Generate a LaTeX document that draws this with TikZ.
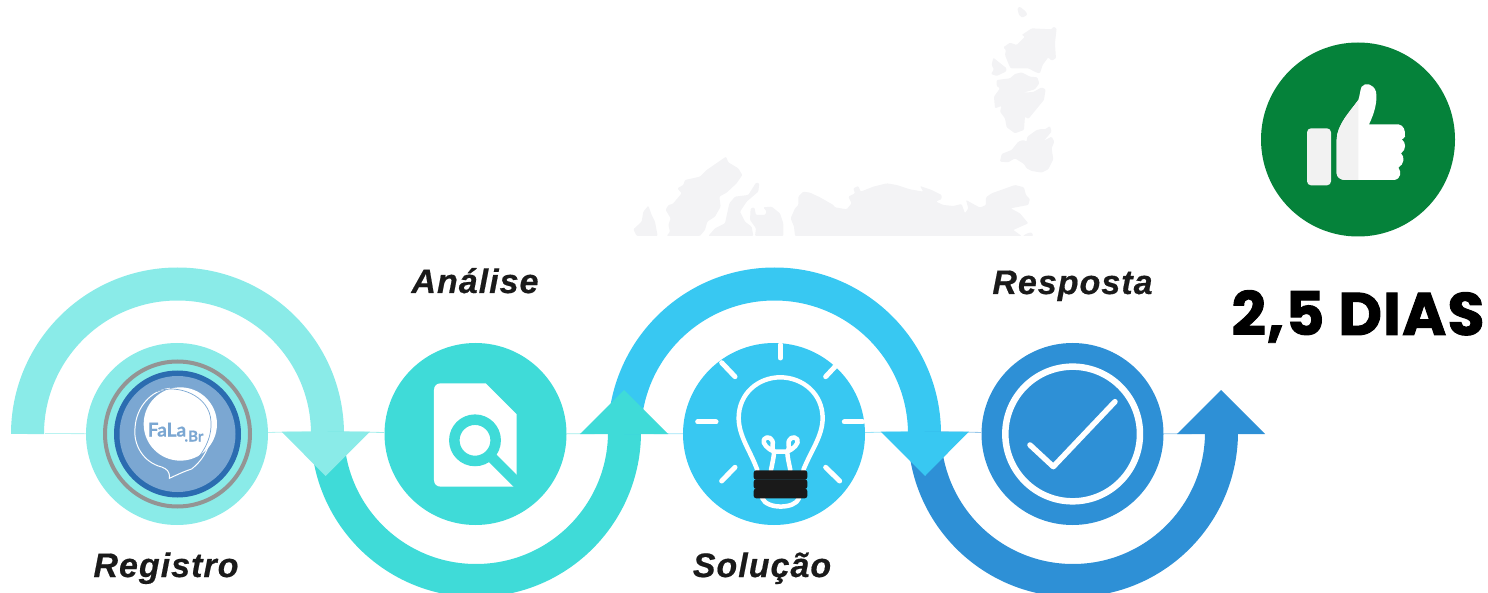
\documentclass[tikz,border=0pt]{standalone}
\usepackage{fontspec}
\setmainfont{Liberation Sans}
\newfontfamily\lblfont[LetterSpace=3,FakeBold=0.5]{Liberation Sans}
\newfontfamily\bigfont[FakeBold=1.6,LetterSpace=2]{Poppins}
\newfontfamily\logofont[FakeBold=0.4]{Lato}
\definecolor{cA}{HTML}{8AEBE8}
\definecolor{cB}{HTML}{3FDBD8}
\definecolor{cC}{HTML}{38C8F2}
\definecolor{cD}{HTML}{2E90D6}
\definecolor{cG}{HTML}{05823A}
\definecolor{mapg}{HTML}{F3F3F5}
\definecolor{txt}{HTML}{1A1A1A}
\definecolor{logoB}{HTML}{7BA7D2}
\definecolor{logoD}{HTML}{2B6CB0}
\tikzset{
  disc/.style={circle,minimum size=182pt,inner sep=0pt,fill=#1},
  band/.style={line width=33pt,draw=#1},
  hair/.style={line width=0.8pt,draw=#1},
  lbl/.style={anchor=base,font=\lblfont\fontsize{34}{34}\selectfont\bfseries\itshape,text=txt},
  ray/.style={draw=white,line width=5pt,line cap=round},
  wline/.style={draw=white,line width=4.5pt,line cap=round,line join=round},
  landmass/.style={fill=mapg,rounded corners=1pt},
  base/.style={fill=txt,rounded corners=2.5pt}
}
\newcommand{\handpath}{(190,75) .. controls (195,60) and (195,45) .. (200,35) .. controls (210,22) and (235,25) .. (243,50) .. controls (248,80) and (238,115) .. (222,148) -- (310,148) .. controls (325,150) and (332,165) .. (330,185) .. controls (327,190) and (323,192) .. (320,193) .. controls (333,200) and (335,225) .. (318,235) .. controls (330,245) and (328,268) .. (310,278) .. controls (320,290) and (318,312) .. (298,315) -- (150,315) .. controls (135,315) and (125,305) .. (125,295) -- (125,195) .. controls (125,150) and (165,110) .. (190,75) -- cycle}
\begin{document}
\begin{tikzpicture}[x=1pt,y=-1pt]
\useasboundingbox (0,0) rectangle (1488,593);
\clip (0,0) rectangle (1488,593);
% faint map
\begin{scope}[shift={(620,0)},x=0.3333pt,y=-0.3333pt]
\fill[landmass] (1192,25)--(1200,20)--(1218,35)--(1222,45)--(1207,53)--(1197,45)--cycle;
\fill[landmass] (1205,105)--(1235,85)--(1295,88)--(1300,80)--(1310,85)--(1305,130)--(1308,175)--(1295,182)--(1285,172)--(1268,195)--(1260,220)--(1250,218)--(1225,205)--(1172,205)--(1165,190)--(1155,165)--(1158,150)--(1150,142)--(1170,128)--(1190,135)--(1215,110)--cycle;
\fill[landmass] (1120,173)--(1160,205)--(1158,215)--(1130,228)--(1113,222)--(1122,208)--(1115,195)--cycle;
\fill[landmass] (1130,240)--(1170,235)--(1185,222)--(1205,217)--(1230,230)--(1252,232)--(1258,250)--(1245,268)--(1210,278)--(1240,276)--(1265,262)--(1277,268)--(1272,300)--(1225,357)--(1215,350)--(1212,390)--(1185,400)--(1160,382)--(1155,355)--(1140,335)--(1145,318)--(1125,325)--(1122,290)--(1140,265)--(1130,258)--cycle;
\fill[landmass] (1290,378)--(1295,395)--(1272,422)--(1295,410)--(1303,425)--(1295,445)--(1300,478)--(1285,508)--(1265,518)--(1235,513)--(1220,505)--(1212,492)--(1185,475)--(1165,487)--(1140,485)--(1145,462)--(1175,450)--(1195,425)--(1210,420)--(1220,425)--(1222,410)--(1250,390)--(1265,387)--(1275,388)--cycle;
\fill[landmass] (40,688)--(65,665)--(70,635)--(85,617)--(95,645)--(105,665)--(113,708)--(50,708)--cycle;
\fill[landmass] (140,708)--(150,695)--(145,675)--(152,655)--(137,630)--(145,615)--(158,612)--(185,580)--(172,565)--(190,555)--(195,540)--(240,530)--(260,510)--(318,470)--(325,487)--(355,505)--(367,525)--(350,550)--(320,578)--(298,590)--(302,620)--(285,650)--(262,665)--(255,690)--(240,708)--cycle;
\fill[landmass] (265,708)--(285,685)--(315,670)--(328,610)--(345,590)--(385,585)--(408,548)--(418,550)--(415,575)--(380,605)--(360,635)--(375,665)--(395,680)--(400,708)--cycle;
\fill[landmass] (405,708)--(408,685)--(390,660)--(392,625)--(403,622)--(408,645)--(435,645)--(440,635)--(430,622)--(455,620)--(480,640)--(490,670)--(490,708)--cycle;
\fill[landmass] (525,708)--(522,680)--(512,655)--(525,625)--(535,615)--(535,590)--(550,575)--(570,578)--(600,592)--(640,615)--(645,622)--(680,628)--(695,610)--(685,590)--(705,580)--(700,565)--(715,558)--(722,575)--(760,560)--(800,550)--(830,555)--(870,568)--(910,575)--(900,558)--(935,570)--(965,585)--(965,597)--(948,605)--(970,615)--(1000,618)--(1025,612)--(1035,640)--(1045,625)--(1038,600)--(1080,623)--(1098,615)--(1098,592)--(1115,580)--(1185,555)--(1212,562)--(1218,585)--(1230,597)--(1225,615)--(1172,625)--(1200,640)--(1225,670)--(1180,690)--(1205,708)--cycle;
\fill[landmass] (1208,708)--(1222,700)--(1235,697)--(1240,708)--cycle;
\end{scope}
% anchors
\coordinate (s0) at (45,433.5);
\coordinate (h1) at (325.5,431.5);
\coordinate (h2) at (624,433.5);
\coordinate (h3) at (925,431.5);
\coordinate (h4) at (1221,433.5);
% discs
\node[disc=cA] (n1) at (177,434) {};
\node[disc=cB] (n2) at (475.5,434) {};
\node[disc=cC] (n3) at (774,434) {};
\node[disc=cD] (n4) at (1072.5,434) {};
% hairlines
\draw[hair=cA!60] (s0) -- (n1);
\draw[hair=cA!60] (n1) -- (h1);
\draw[hair=cB!50] (h1) -- (n2);
\draw[hair=cB!50] (n2) -- (h2);
\draw[hair=cC!50] (h2) -- (n3);
\draw[hair=cC!50] (n3) -- (h3);
\draw[hair=cD!50] (h3) -- (n4);
\draw[hair=cD!50] (n4) -- (h4);
% bands and heads
\draw[band=cA] (27.5,434) arc[start angle=180,end angle=360,radius=150];
\draw[band=cB] (327.5,432) arc[start angle=180,end angle=0,radius=148.5];
\fill[cA] (281.5,431.5)--(370,431.5)--(325.5,476)--cycle;
\draw[band=cC] (624.5,434) arc[start angle=180,end angle=360,radius=150];
\fill[cB] (580,434)--(668,434)--(624,390)--cycle;
\draw[band=cD] (924.5,432) arc[start angle=180,end angle=0,radius=148.5];
\fill[cC] (880.5,431.5)--(969,431.5)--(925,476)--cycle;
\fill[cD] (1177,434)--(1265,434)--(1221,390)--cycle;
% logo
\draw[draw=black!42,line width=4pt] (177.5,434) circle[radius=72.5];
\fill[logoD] (177.5,434) circle[radius=63.5];
\fill[logoB] (177.5,434) circle[radius=58];
\begin{scope}[shift={(120,375)},x=0.3333pt,y=-0.3333pt]
\fill[white] (181,147) circle[radius=110];
\draw[white,line width=1pt] (125,276) .. controls (70,262) and (40,210) .. (45,160) .. controls (48,95) and (95,45) .. (150,40);
\draw[white,line width=1pt] (125,276) .. controls (140,282) and (150,288) .. (148,310) .. controls (170,300) and (190,290) .. (215,282) .. controls (240,262) and (280,220) .. (273,140);
\draw[logoB,line width=0.7pt] (110,50) .. controls (170,25) and (270,60) .. (273,140) .. controls (276,190) and (250,235) .. (215,270);
\end{scope}
\node[font=\logofont\bfseries\fontsize{19}{19}\selectfont,text=logoB,anchor=base] (fala) at (167,436.5) {FaLa};
\node[font=\logofont\bfseries\fontsize{15}{15}\selectfont,text=logoB,anchor=base] (br) at (194,441.5) {.Br};
% magnifier doc
\begin{scope}[shift={(370,330)},x=0.3333pt,y=-0.3333pt]
\fill[white] (192,180) .. controls (192,168) and (200,160) .. (212,160) -- (347,160) -- (440,253) -- (440,470) -- (212,470) .. controls (200,470) and (192,462) .. (192,450) -- cycle;
\draw[cB,line width=10.5pt] (315,331) circle[radius=62];
\draw[cB,line width=10.5pt] (368,385) -- (455,472);
\end{scope}
% bulb
\begin{scope}[shift={(670,330)},x=0.3333pt,y=-0.3333pt]
\draw[ray] (331,44)--(331,84);
\draw[ray] (155,98)--(195,140);
\draw[ray] (497,108)--(467,140);
\draw[ray] (83,276)--(138,276);
\draw[ray] (523,276)--(578,276);
\draw[ray] (155,453)--(195,412);
\draw[ray] (467,412)--(509,453);
\draw[wline] (262,420) .. controls (240,360) and (207,320) .. (206,265) .. controls (206,190) and (265,142) .. (331,142) .. controls (397,142) and (458,190) .. (458,265) .. controls (457,320) and (424,360) .. (400,420);
\draw[wline] (303,420) .. controls (308,395) and (312,380) .. (312,365) .. controls (295,358) and (275,340) .. (282,328) .. controls (292,315) and (312,325) .. (308,345) .. controls (306,355) and (310,362) .. (312,365) -- (352,365) .. controls (354,362) and (358,355) .. (356,345) .. controls (352,325) and (372,315) .. (382,328) .. controls (389,340) and (369,358) .. (352,365) .. controls (352,380) and (356,395) .. (361,420);
\draw[wline] (277,505) .. controls (290,538) and (375,538) .. (387,505);
\fill[base] (251,421) rectangle (412,449);
\fill[base] (251,448) rectangle (412,477);
\fill[base] (251,476) rectangle (412,505);
\end{scope}
% check
\begin{scope}[shift={(880,330)},x=0.3333pt,y=-0.3333pt]
\draw[white,line width=6.5pt] (578,312) circle[radius=202];
\draw[white,line width=5.5pt,line cap=round,line join=round] (450,345)--(520,410)--(705,215);
\end{scope}
% green
\node[circle,minimum size=194pt,inner sep=0pt,fill=cG] (thumb) at (1358,139.5) {};
\begin{scope}[shift={(1295,75)},x=0.3333pt,y=-0.3333pt]
\fill[white!95!black,rounded corners=4pt] (36,160) rectangle (108,331);
\fill[white] \handpath;
\begin{scope}
\clip (100,0) rectangle (190,340);
\fill[white!95!black] \handpath;
\end{scope}
\end{scope}
% labels
\node[lbl] (l1) at (166,577) {Registro};
\node[lbl] (l2) at (475,293) {Análise};
\node[lbl] (l3) at (762,577) {Solução};
\node[lbl] (l4) at (1072.5,294) {Resposta};
\node[anchor=base,font=\bigfont\bfseries\fontsize{60}{60}\selectfont] (days) at (1358,335) {2,5 DIAS};
\end{tikzpicture}
\end{document}
